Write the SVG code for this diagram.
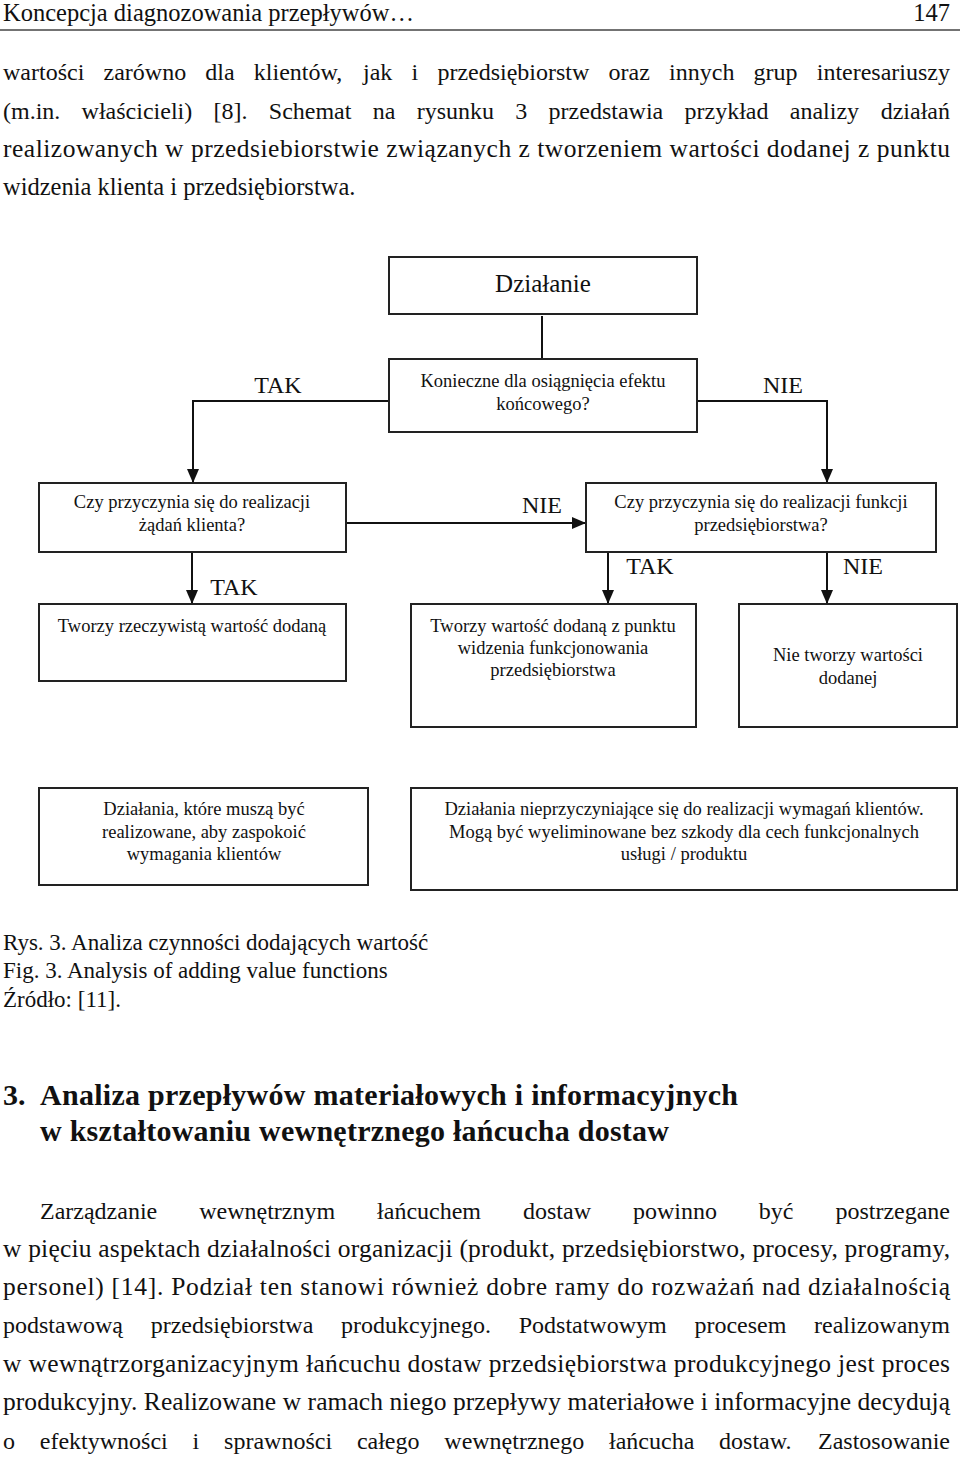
<svg xmlns="http://www.w3.org/2000/svg" width="960" height="1460" viewBox="0 0 960 1460">
<defs>
<style>
.t{font-family:"Liberation Serif","Times New Roman",serif;fill:#111}
.b{font-size:24px}
.j{font-size:25.5px}
.hd{font-size:24.5px}
.h{font-size:30px;font-weight:bold}
.c{font-size:23px}
.d{font-size:18.5px;text-anchor:middle}
.lbl{font-size:24px;text-anchor:middle}
.box{fill:#fff;stroke:#222;stroke-width:2}
.con{fill:none;stroke:#111;stroke-width:2}
</style>
<marker id="arrow" viewBox="0 0 14 12" refX="14" refY="6" markerWidth="14" markerHeight="12" markerUnits="userSpaceOnUse" orient="auto">
<path d="M0,0 L14,6 L0,12 z" fill="#111"/>
</marker>
</defs>
<rect width="960" height="1460" fill="#fff"/>

<g id="page-header">
<text class="t hd" x="3" y="21">Koncepcja diagnozowania przepływów…</text>
<text class="t hd" x="950" y="21" text-anchor="end">147</text>
<line x1="0" y1="30" x2="960" y2="30" stroke="#444" stroke-width="1.5"/>
</g>

<g id="intro-text" class="t b">
<text y="80"><tspan x="3">wartości</tspan><tspan x="103.5">zarówno</tspan><tspan x="205.3">dla</tspan><tspan x="253.8">klientów,</tspan><tspan x="363">jak</tspan><tspan x="411.5">i</tspan><tspan x="437.4">przedsiębiorstw</tspan><tspan x="608.6">oraz</tspan><tspan x="669.1">innych</tspan><tspan x="753.6">grup</tspan></text>
<text x="950" y="80" text-anchor="end">interesariuszy</text>
<text y="119"><tspan x="3">(m.in.</tspan><tspan x="81.6">właścicieli)</tspan><tspan x="213.5">[8].</tspan><tspan x="268.8">Schemat</tspan><tspan x="372.8">na</tspan><tspan x="416.7">rysunku</tspan><tspan x="515.3">3</tspan><tspan x="548.6">przedstawia</tspan><tspan x="684.5">przykład</tspan><tspan x="789.8">analizy</tspan></text>
<text x="950" y="119" text-anchor="end">działań</text>
<text class="j" x="3" y="157" textLength="947" lengthAdjust="spacing">realizowanych w przedsiebiorstwie związanych z tworzeniem wartości dodanej z punktu</text>
<text class="hd" x="3" y="195">widzenia klienta i przedsiębiorstwa.</text>
</g>

<g id="connectors">
<line class="con" x1="542" y1="316" x2="542" y2="359"/>
<path class="con" d="M389,401 H193 V483" marker-end="url(#arrow)"/>
<path class="con" d="M697,401 H827 V483" marker-end="url(#arrow)"/>
<path class="con" d="M346,523 H586" marker-end="url(#arrow)"/>
<path class="con" d="M192,552 V604" marker-end="url(#arrow)"/>
<path class="con" d="M608,552 V604" marker-end="url(#arrow)"/>
<path class="con" d="M827,552 V604" marker-end="url(#arrow)"/>
<text class="t lbl" x="278" y="393">TAK</text>
<text class="t lbl" x="783" y="393">NIE</text>
<text class="t lbl" x="542" y="513">NIE</text>
<text class="t lbl" x="234" y="595">TAK</text>
<text class="t lbl" x="650" y="574">TAK</text>
<text class="t lbl" x="863" y="574">NIE</text>
</g>

<g id="n-dzialanie">
<rect class="box" x="389" y="257" width="308" height="57"/>
<text class="t" x="543" y="292" font-size="25" text-anchor="middle">Działanie</text>
</g>

<g id="n-konieczne">
<rect class="box" x="389" y="359" width="308" height="73"/>
<text class="t d" x="543" y="387">Konieczne dla osiągnięcia efektu</text>
<text class="t d" x="543" y="410">końcowego?</text>
</g>

<g id="n-klient">
<rect class="box" x="39" y="483" width="307" height="69"/>
<text class="t d" x="192" y="508">Czy przyczynia się do realizacji</text>
<text class="t d" x="192" y="531">żądań klienta?</text>
</g>

<g id="n-funkcje">
<rect class="box" x="586" y="483" width="350" height="69"/>
<text class="t d" x="761" y="508">Czy przyczynia się do realizacji funkcji</text>
<text class="t d" x="761" y="531">przedsiębiorstwa?</text>
</g>

<g id="n-rzeczywista">
<rect class="box" x="39" y="604" width="307" height="77"/>
<text class="t d" x="192" y="632">Tworzy rzeczywistą wartość dodaną</text>
</g>

<g id="n-funkcjonowanie">
<rect class="box" x="411" y="604" width="285" height="123"/>
<text class="t d" x="553" y="632">Tworzy wartość dodaną z punktu</text>
<text class="t d" x="553" y="654">widzenia funkcjonowania</text>
<text class="t d" x="553" y="676">przedsiębiorstwa</text>
</g>

<g id="n-nie-tworzy">
<rect class="box" x="739" y="604" width="218" height="123"/>
<text class="t d" x="848" y="661">Nie tworzy wartości</text>
<text class="t d" x="848" y="684">dodanej</text>
</g>

<g id="n-musza">
<rect class="box" x="39" y="788" width="329" height="97"/>
<text class="t d" x="204" y="815">Działania, które muszą być</text>
<text class="t d" x="204" y="838">realizowane, aby zaspokoić</text>
<text class="t d" x="204" y="860">wymagania klientów</text>
</g>

<g id="n-nieprzyczyniajace">
<rect class="box" x="411" y="788" width="546" height="102"/>
<text class="t d" x="684" y="815">Działania nieprzyczyniające się do realizacji wymagań klientów.</text>
<text class="t d" x="684" y="838">Mogą być wyeliminowane bez szkody dla cech funkcjonalnych</text>
<text class="t d" x="684" y="860">usługi / produktu</text>
</g>

<g id="caption" class="t c">
<text x="3" y="950">Rys. 3. Analiza czynności dodających wartość</text>
<text x="3" y="978">Fig. 3. Analysis of adding value functions</text>
<text x="3" y="1007">Źródło: [11].</text>
</g>

<g id="section-heading" class="t h">
<text x="3" y="1105">3.</text>
<text x="40" y="1105" textLength="698" lengthAdjust="spacing">Analiza przepływów materiałowych i informacyjnych</text>
<text x="40" y="1141" textLength="629" lengthAdjust="spacing">w kształtowaniu wewnętrznego łańcucha dostaw</text>
</g>

<g id="body-text" class="t b">
<text y="1219"><tspan x="40">Zarządzanie</tspan><tspan x="199.2">wewnętrznym</tspan><tspan x="377.1">łańcuchem</tspan><tspan x="523">dostaw</tspan><tspan x="632.9">powinno</tspan><tspan x="758.8">być</tspan></text>
<text x="950" y="1219" text-anchor="end">postrzegane</text>
<text class="j" x="3" y="1257" textLength="947" lengthAdjust="spacing">w pięciu aspektach działalności organizacji (produkt, przedsiębiorstwo, procesy, programy,</text>
<text class="j" x="3" y="1295" textLength="947" lengthAdjust="spacing">personel) [14]. Podział ten stanowi również dobre ramy do rozważań nad działalnością</text>
<text y="1333"><tspan x="3">podstawową</tspan><tspan x="150.7">przedsiębiorstwa</tspan><tspan x="341">produkcyjnego.</tspan><tspan x="518.7">Podstatwowym</tspan><tspan x="694.4">procesem</tspan></text>
<text x="950" y="1333" text-anchor="end">realizowanym</text>
<text class="j" x="3" y="1372" textLength="947" lengthAdjust="spacing">w wewnątrzorganizacyjnym łańcuchu dostaw przedsiębiorstwa produkcyjnego jest proces</text>
<text class="j" x="3" y="1410" textLength="947" lengthAdjust="spacing">produkcyjny. Realizowane w ramach niego przepływy materiałowe i informacyjne decydują</text>
<text y="1449"><tspan x="3">o</tspan><tspan x="39.8">efektywności</tspan><tspan x="192.6">i</tspan><tspan x="224.1">sprawności</tspan><tspan x="356.9">całego</tspan><tspan x="444.3">wewnętrznego</tspan><tspan x="609">łańcucha</tspan><tspan x="719.1">dostaw.</tspan></text>
<text x="950" y="1449" text-anchor="end">Zastosowanie</text>
</g>
</svg>
